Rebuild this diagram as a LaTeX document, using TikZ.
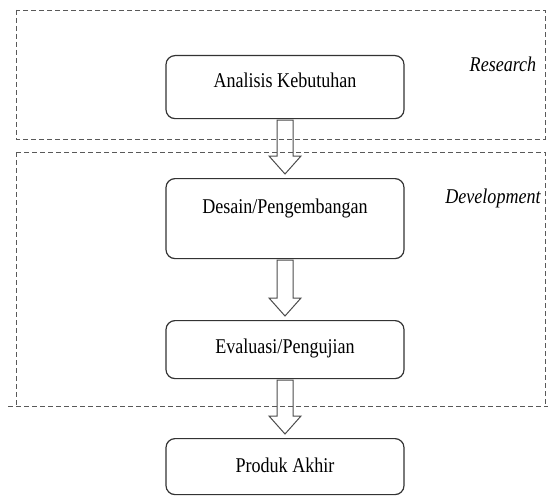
\documentclass[tikz,border=0pt]{standalone}
\usepackage{fontspec}
\usepackage{graphicx}
\setmainfont{Liberation Serif}
\usetikzlibrary{calc}
\newcommand\narrowtxt[1]{\scalebox{0.86}[1]{#1}}
\tikzset{
  phase/.style={draw=black!65, line width=0.9pt, dash pattern=on 5pt off 3pt},
  stepbox/.style={draw=black!80, line width=1.2pt, rounded corners=9pt,
    minimum width=238pt, inner xsep=0pt, inner ysep=0pt, align=center, anchor=north,
    font=\fontsize{21}{25}\selectfont},
  phaselabel/.style={font=\fontsize{21}{25}\selectfont\itshape, inner sep=0pt},
  barrow/.style={draw=black!70, line width=1pt, line join=miter}
}
\newcommand\blockarr[2]{%
  \draw[barrow] ($(#1.south)+(-8,1)$) -- ($(#2.north)+(-8,-22)$) -- ($(#2.north)+(-16,-22)$)
    -- ($(#2.north)+(0,-4)$) -- ($(#2.north)+(16,-22)$) -- ($(#2.north)+(8,-22)$)
    -- ($(#1.south)+(8,1)$) -- cycle;}
\begin{document}
\begin{tikzpicture}[x=1pt,y=-1pt]
\useasboundingbox (0,0) rectangle (548,495);
% phase boxes
\draw[phase] (16,10) rectangle (545,139);
\draw[phase] (16,152) -- (545,152) -- (545,406);
\draw[phase] (16,152) -- (16,406);
\draw[phase] (8,406) -- (548,406);
% steps
\node[stepbox, text height=32pt, text depth=31pt] (a) at (285,55) {\narrowtxt{Analisis Kebutuhan}};
\node[stepbox, text height=35pt, text depth=45pt] (b) at (285,178) {\narrowtxt{Desain/Pengembangan}};
\node[stepbox, text height=33pt, text depth=25pt] (c) at (285,320) {\narrowtxt{Evaluasi/Pengujian}};
\node[stepbox, text height=34pt, text depth=22pt] (d) at (285,438) {\narrowtxt{Produk Akhir}};
% labels
\node[phaselabel] (r) at (503,64) {\narrowtxt{Research}};
\node[phaselabel] (dv) at (493,198) {\narrowtxt{Development}};
% arrows
\blockarr{a}{b}
\blockarr{b}{c}
\blockarr{c}{d}
\end{tikzpicture}
\end{document}
